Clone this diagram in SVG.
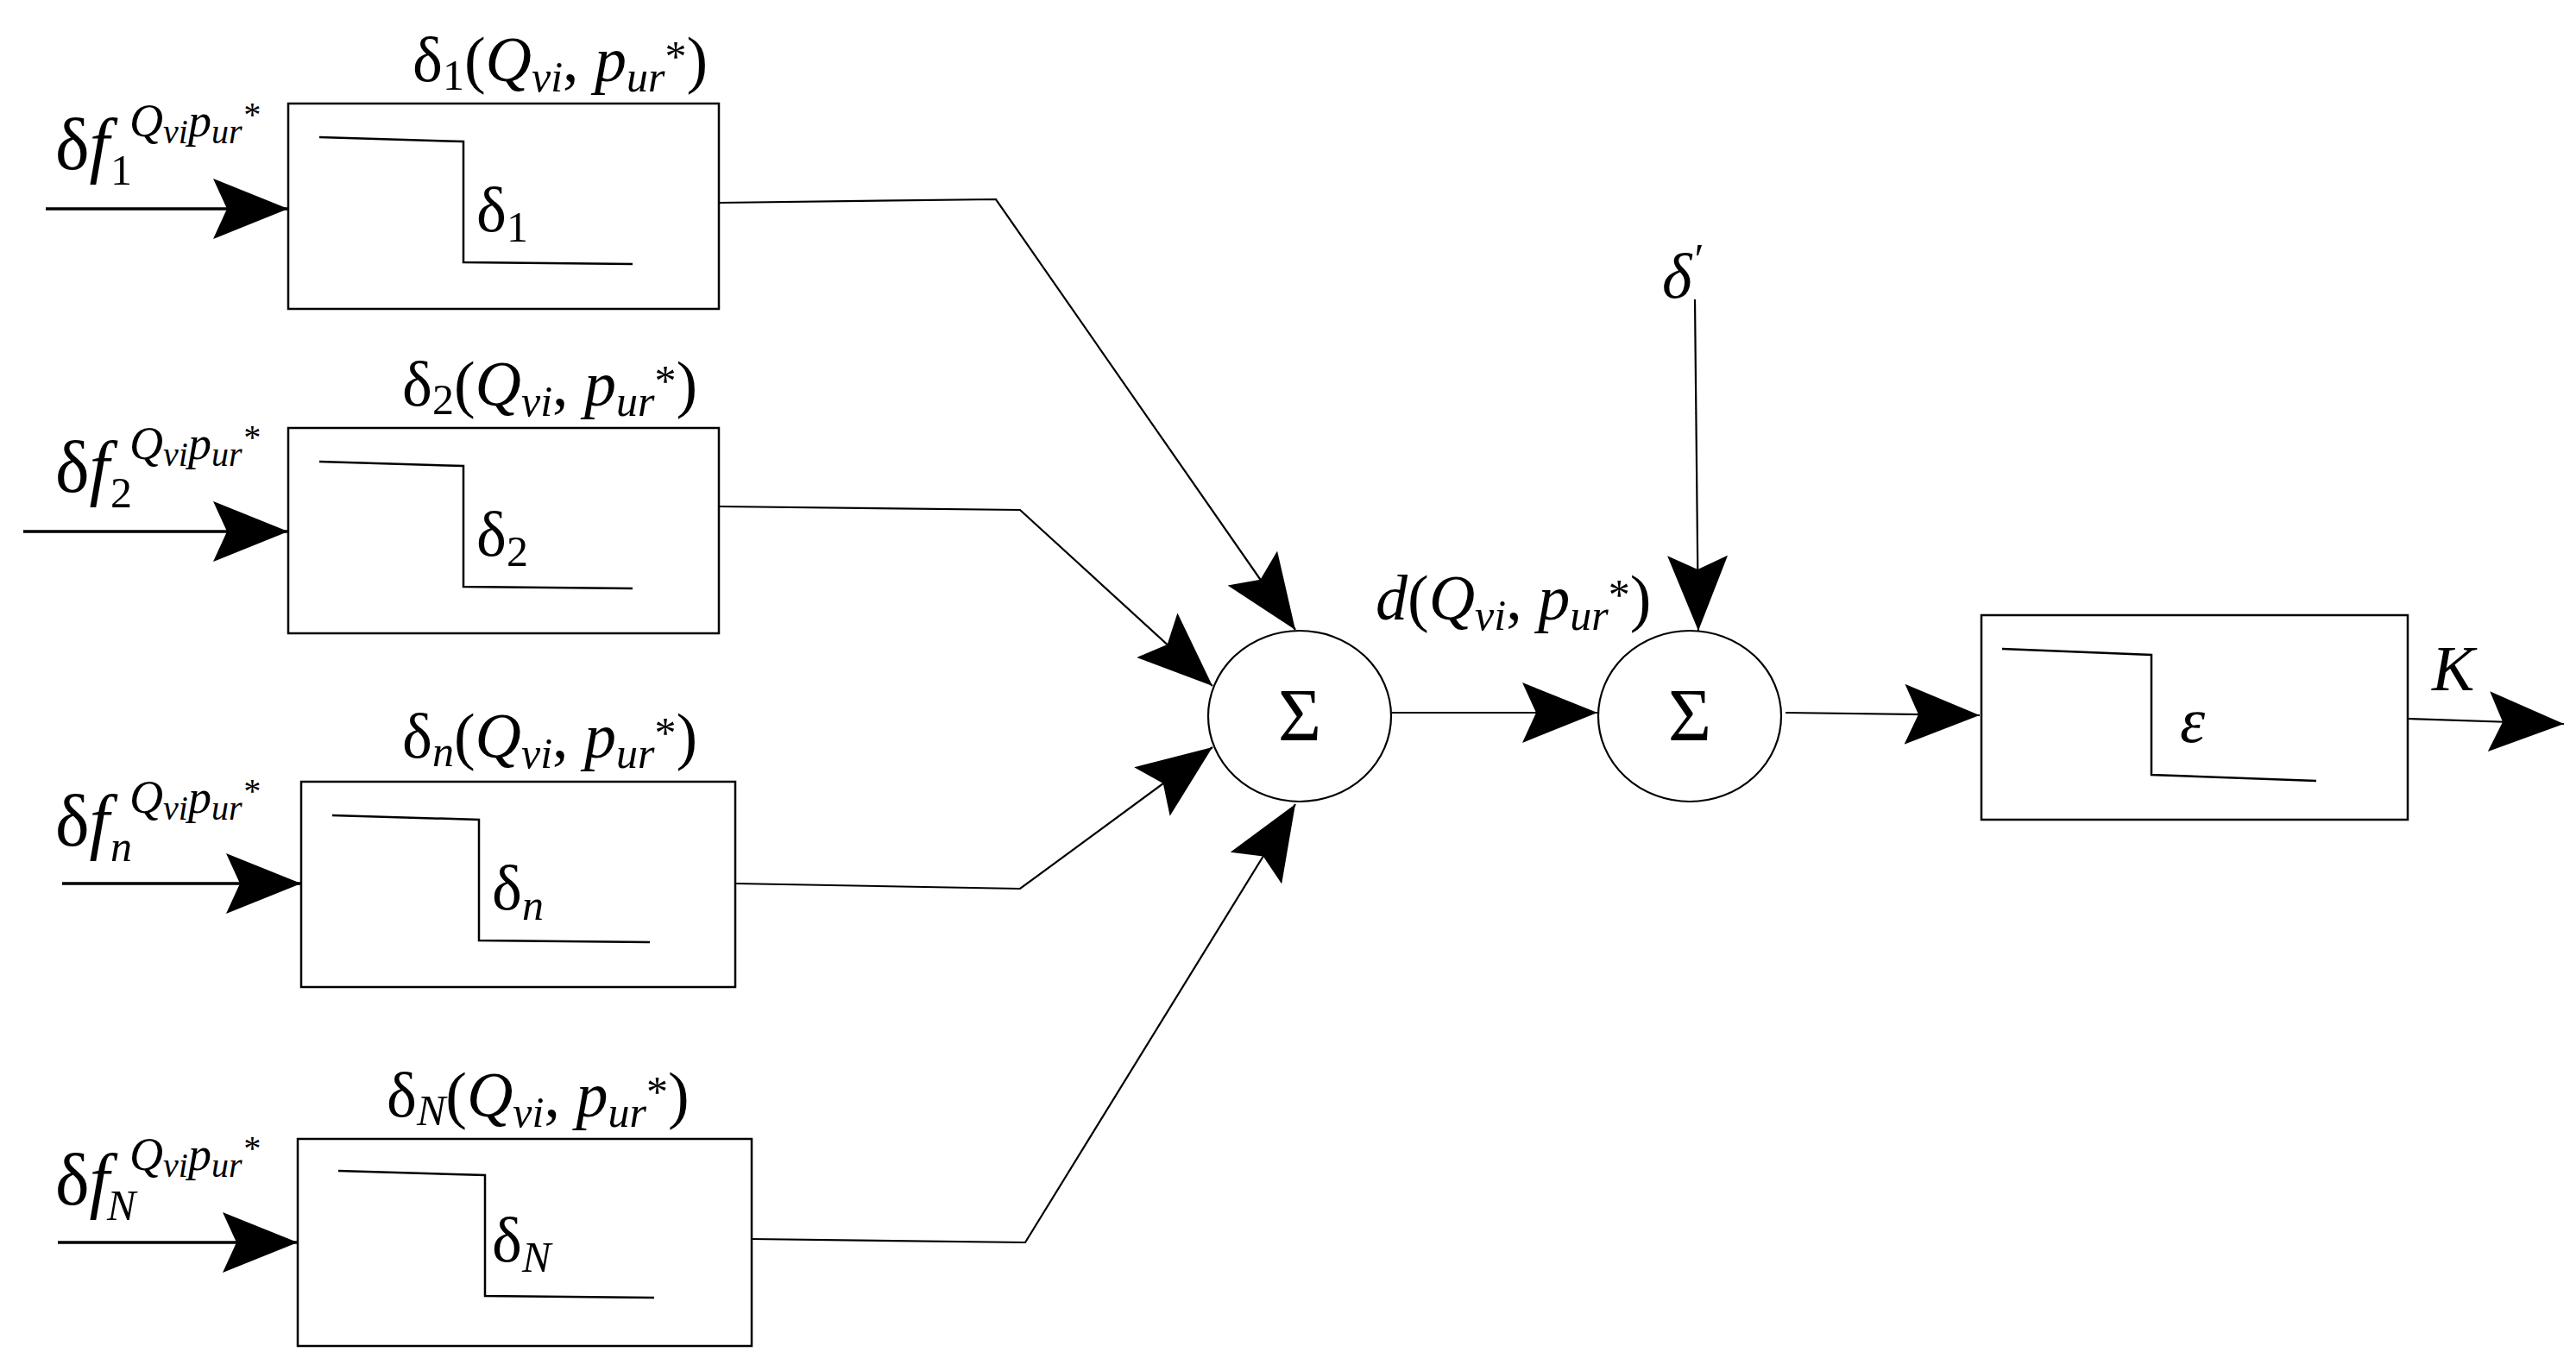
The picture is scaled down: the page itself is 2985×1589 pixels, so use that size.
<svg xmlns="http://www.w3.org/2000/svg" width="2985" height="1589" viewBox="0 0 2985 1589">
<style>
.b{fill:none;stroke:#000;stroke-width:3.5}
.s{fill:none;stroke:#000;stroke-width:2.5}
.c{fill:none;stroke:#000;stroke-width:2.2}
.t{font-family:"Liberation Serif",serif;font-size:74px;fill:#000}
.i{font-style:italic}
.sm{font-size:50px}
.f{font-size:84px}
.sup{font-family:"Liberation Serif",serif;font-style:italic;font-size:54px}
.ss{font-size:40px}
.sg{font-size:86px}
</style>
<defs>
<marker id="a" markerUnits="userSpaceOnUse" markerWidth="90" markerHeight="72" refX="87" refY="35" orient="auto" viewBox="0 0 90 72">
<path d="M0,0 L87,35 L0,70 L16,35 z" fill="#000"/>
</marker>
</defs>
<g id="connectors">
<line class="b" x1="53" y1="242" x2="334" y2="242" marker-end="url(#a)"/>
<line class="b" x1="27" y1="616" x2="334" y2="616" marker-end="url(#a)"/>
<line class="b" x1="72" y1="1024" x2="349" y2="1024" marker-end="url(#a)"/>
<line class="b" x1="67" y1="1440" x2="345" y2="1440" marker-end="url(#a)"/>
<polyline class="c" points="833,235 1154,231 1501,730" marker-end="url(#a)"/>
<polyline class="c" points="833,587 1182,591 1405,795" marker-end="url(#a)"/>
<polyline class="c" points="852,1024 1182,1030 1405,866" marker-end="url(#a)"/>
<polyline class="c" points="871,1436 1188,1440 1501,932" marker-end="url(#a)"/>
<line class="c" x1="1613" y1="826" x2="1851" y2="826" marker-end="url(#a)"/>
<line class="c" x1="1964" y1="347" x2="1968" y2="731" marker-end="url(#a)"/>
<line class="c" x1="2069" y1="826" x2="2294" y2="829" marker-end="url(#a)"/>
<line class="c" x1="2790" y1="833" x2="2971" y2="839" marker-end="url(#a)"/>
</g>
<g id="box1">
<rect class="s" x="334" y="120" width="499" height="238"/>
<polyline class="s" points="370,159 537,164 537,304 733,306"/>
<text class="t" x="552" y="268">δ<tspan class="sm" dy="12">1</tspan></text>
<text class="t" x="478" y="94">δ<tspan class="sm" dy="10">1</tspan><tspan dy="-10">(</tspan><tspan class="i">Q</tspan><tspan class="i sm" dy="12">vi</tspan><tspan dy="-12">, </tspan><tspan class="i">p</tspan><tspan class="i sm" dy="12">ur</tspan><tspan class="sm" dy="-24">*</tspan><tspan dy="12">)</tspan></text>
<text class="t f" x="64" y="196">δ<tspan class="i">f</tspan></text>
<text class="t sm" x="128" y="214">1</text>
<text class="sup" x="150" y="158">Q<tspan class="ss" dy="8">vi</tspan><tspan dy="-8">p</tspan><tspan class="ss" dy="8">ur</tspan><tspan class="ss" dy="-20">*</tspan></text>
</g>
<g id="box2">
<rect class="s" x="334" y="496" width="499" height="238"/>
<polyline class="s" points="370,535 537,540 537,680 733,682"/>
<text class="t" x="552" y="644">δ<tspan class="sm" dy="12">2</tspan></text>
<text class="t" x="466" y="470">δ<tspan class="sm" dy="10">2</tspan><tspan dy="-10">(</tspan><tspan class="i">Q</tspan><tspan class="i sm" dy="12">vi</tspan><tspan dy="-12">, </tspan><tspan class="i">p</tspan><tspan class="i sm" dy="12">ur</tspan><tspan class="sm" dy="-24">*</tspan><tspan dy="12">)</tspan></text>
<text class="t f" x="64" y="570">δ<tspan class="i">f</tspan></text>
<text class="t sm" x="128" y="588">2</text>
<text class="sup" x="150" y="532">Q<tspan class="ss" dy="8">vi</tspan><tspan dy="-8">p</tspan><tspan class="ss" dy="8">ur</tspan><tspan class="ss" dy="-20">*</tspan></text>
</g>
<g id="boxn">
<rect class="s" x="349" y="906" width="503" height="238"/>
<polyline class="s" points="385,945 555,950 555,1090 753,1092"/>
<text class="t" x="570" y="1054">δ<tspan class="i sm" dy="12">n</tspan></text>
<text class="t" x="466" y="878">δ<tspan class="i sm" dy="10">n</tspan><tspan dy="-10">(</tspan><tspan class="i">Q</tspan><tspan class="i sm" dy="12">vi</tspan><tspan dy="-12">, </tspan><tspan class="i">p</tspan><tspan class="i sm" dy="12">ur</tspan><tspan class="sm" dy="-24">*</tspan><tspan dy="12">)</tspan></text>
<text class="t f" x="64" y="980">δ<tspan class="i">f</tspan></text>
<text class="t i sm" x="128" y="998">n</text>
<text class="sup" x="150" y="942">Q<tspan class="ss" dy="8">vi</tspan><tspan dy="-8">p</tspan><tspan class="ss" dy="8">ur</tspan><tspan class="ss" dy="-20">*</tspan></text>
</g>
<g id="boxN">
<rect class="s" x="345" y="1320" width="526" height="240"/>
<polyline class="s" points="392,1357 562,1362 562,1502 758,1504"/>
<text class="t" x="570" y="1462">δ<tspan class="i sm" dy="12">N</tspan></text>
<text class="t" x="448" y="1294">δ<tspan class="i sm" dy="10">N</tspan><tspan dy="-10">(</tspan><tspan class="i">Q</tspan><tspan class="i sm" dy="12">vi</tspan><tspan dy="-12">, </tspan><tspan class="i">p</tspan><tspan class="i sm" dy="12">ur</tspan><tspan class="sm" dy="-24">*</tspan><tspan dy="12">)</tspan></text>
<text class="t f" x="64" y="1396">δ<tspan class="i">f</tspan></text>
<text class="t i sm" x="124" y="1414">N</text>
<text class="sup" x="150" y="1356">Q<tspan class="ss" dy="8">vi</tspan><tspan dy="-8">p</tspan><tspan class="ss" dy="8">ur</tspan><tspan class="ss" dy="-20">*</tspan></text>
</g>
<g id="sum1">
<ellipse class="c" cx="1506" cy="830" rx="106" ry="99"/>
<text class="t sg" x="1506" y="858" text-anchor="middle">Σ</text>
</g>
<g id="sum2">
<ellipse class="c" cx="1958" cy="830" rx="106" ry="99"/>
<text class="t sg" x="1958" y="858" text-anchor="middle">Σ</text>
<text class="t i" x="1926" y="345">δ<tspan class="sm" dy="-28">′</tspan></text>
<text class="t" x="1594" y="718"><tspan class="i">d</tspan>(<tspan class="i">Q</tspan><tspan class="i sm" dy="12">vi</tspan><tspan dy="-12">, </tspan><tspan class="i">p</tspan><tspan class="i sm" dy="12">ur</tspan><tspan class="sm" dy="-24">*</tspan><tspan dy="12">)</tspan></text>
</g>
<g id="boxE">
<rect class="s" x="2296" y="713" width="494" height="237"/>
<polyline class="s" points="2320,752 2493,759 2493,898 2684,905"/>
<text class="t i" x="2526" y="860">ε</text>
<text class="t i" x="2818" y="800">K</text>
</g>
</svg>
